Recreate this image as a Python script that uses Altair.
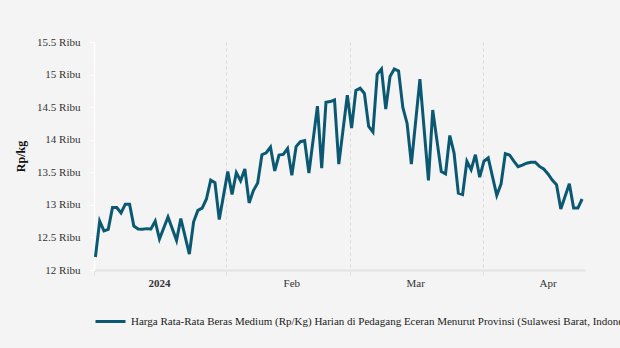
import altair as alt
import pandas as pd

SERIES = ("Harga Rata-Rata Beras Medium (Rp/Kg) Harian di Pedagang Eceran Menurut "
          "Provinsi (Sulawesi Barat, Indonesia)")
LINE_COLOR = "#0b5872"
FONT = "Liberation Serif"

jan_days = [1, 2, 3, 4, 5, 6, 7, 8, 9, 10, 11, 12, 13, 14, 15, 16, 18, 20, 21, 23, 24, 25, 26, 27, 28, 29, 30]
jan_vals = [12200, 12750, 12600, 12625, 12960, 12960, 12875, 13010, 13010, 12675, 12630, 12625, 12635, 12630,
            12750, 12475, 12815, 12455, 12790, 12245, 12740, 12915, 12950, 13090, 13380, 13340, 12775]

feb_days = [1, 2, 3, 4, 5, 6, 7, 8, 9, 10, 11, 12, 13, 14, 15, 16, 17, 18, 19, 20, 22, 23, 24, 25, 26, 27, 29]
feb_vals = [13510, 13160, 13495, 13370, 13550, 13030, 13220, 13335, 13770, 13800, 13885, 13520, 13765, 13775,
            13865, 13455, 13895, 13970, 13985, 13490, 14515, 13565, 14575, 14585, 14610, 13625, 14685]

mar_days = [1, 2, 3, 4, 5, 6, 7, 8, 9, 10, 11, 12, 13, 14, 15, 17, 19, 20, 22, 23, 24, 25, 26, 27, 28, 29, 30, 31]
mar_vals = [14180, 14755, 14790, 14710, 14205, 14120, 15005, 15085, 14470, 14970, 15085, 15055, 14495, 14250,
            13625, 14930, 13375, 14455, 13510, 13475, 14065, 13795, 13180, 13160, 13670, 13540, 13770, 13425]

apr_days = [1, 2, 4, 5, 6, 7, 8, 9, 10, 11, 12, 13, 14, 15, 16, 17, 18, 19, 21, 22, 23, 24]
apr_vals = [13670, 13720, 13145, 13320, 13785, 13765, 13670, 13585, 13610, 13640, 13655, 13655, 13590, 13550,
            13475, 13380, 13310, 12935, 13325, 12950, 12950, 13090]

y_ticks = [12000, 12500, 13000, 13500, 14000, 14500, 15000, 15500]

rows = []
for month, days, vals in [(1, jan_days, jan_vals), (2, feb_days, feb_vals),
                          (3, mar_days, mar_vals), (4, apr_days, apr_vals)]:
    for d, v in zip(days, vals):
        rows.append({"tanggal": f"2024-{month:02d}-{d:02d}T08:00:00", "harga": v, "seri": SERIES})
df = pd.DataFrame(rows)

month_starts = [alt.DateTime(year=2024, month=m, date=1) for m in [1, 2, 3, 4]]

chart = alt.Chart(df).mark_line(strokeWidth=3).encode(
    x=alt.X(
        "tanggal:T",
        title=None,
        scale=alt.Scale(domain=[alt.DateTime(year=2024, month=1, date=1),
                                alt.DateTime(year=2024, month=4, date=25)]),
        axis=alt.Axis(
            values=month_starts,
            labelExpr="month(datum.value) == 0 ? timeFormat(datum.value, '%Y') : timeFormat(datum.value, '%b')",
            labelOffset=65,
            labelFlush=False,
            labelOverlap=False,
            labelFont=FONT,
            labelFontSize=11,
            labelColor="#333333",
            labelFontWeight={"condition": {"test": "month(datum.value) == 0", "value": "bold"},
                             "value": "normal"},
            labelPadding=2,
            grid=True,
            gridDash=[3, 3],
            gridColor="#d9d9d9",
            gridWidth=1,
            domainColor="#e2e2e2",
            domainWidth=2,
            tickColor="#e2e2e2",
            tickSize=5,
        ),
    ),
    y=alt.Y(
        "harga:Q",
        title="Rp/kg",
        scale=alt.Scale(domain=[12000, 15500], nice=False, zero=False),
        axis=alt.Axis(
            values=y_ticks,
            labelExpr="(datum.value / 1000) + ' Ribu'",
            labelFont=FONT,
            labelFontSize=11,
            labelColor="#333333",
            labelPadding=9,
            grid=False,
            domainColor="#ffffff",
            domainWidth=1.5,
            tickColor="#ffffff",
            tickSize=5,
            titleFont=FONT,
            titleFontSize=12,
            titleFontWeight="bold",
            titleColor="#111111",
            titlePadding=9,
        ),
    ),
    color=alt.Color(
        "seri:N",
        scale=alt.Scale(range=[LINE_COLOR]),
        legend=alt.Legend(
            title=None,
            orient="none",
            legendX=0,
            legendY=263,
            symbolType="stroke",
            symbolSize=900,
            symbolStrokeWidth=3,
            labelFont=FONT,
            labelFontSize=11,
            labelColor="#222222",
            labelLimit=0,
            labelOffset=4,
            padding=0,
        ),
    ),
).properties(
    width=491,
    height=228,
    autosize=alt.AutoSizeParams(type="none"),
    padding={"left": 94, "top": 42, "right": 35, "bottom": 78},
).configure(
    background="#f4f4f4",
    font=FONT,
).configure_view(
    stroke=None,
)

chart.save("out.html", embed_options={"renderer": "svg", "actions": False})
